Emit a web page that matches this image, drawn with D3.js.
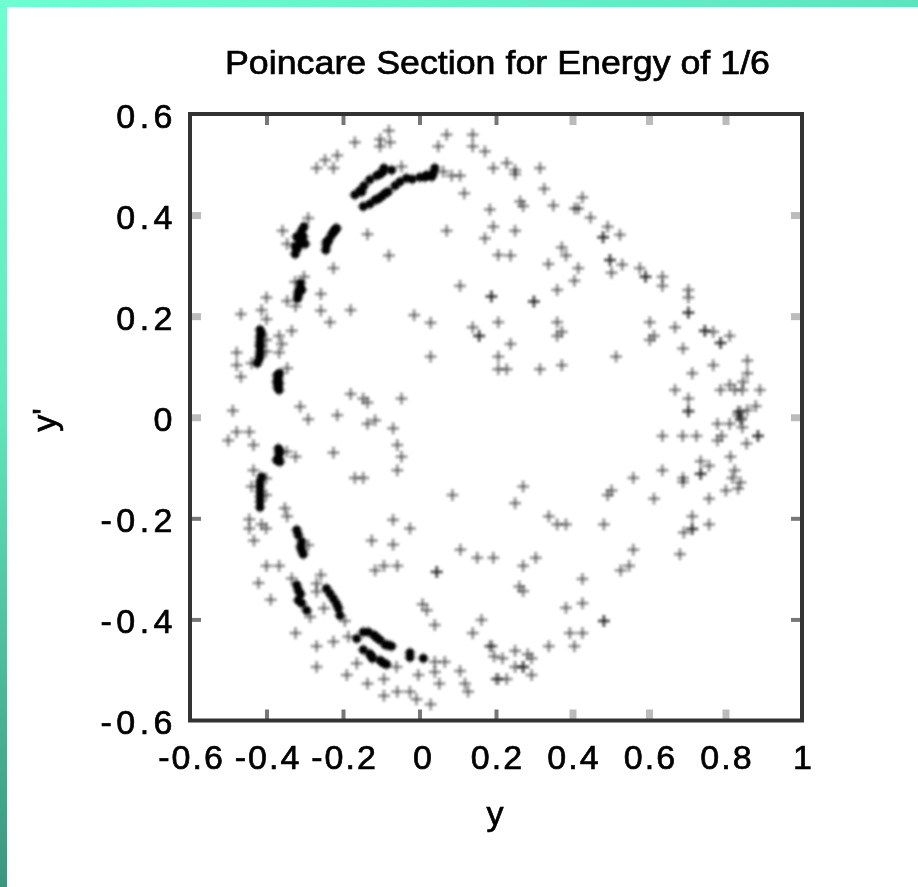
<!DOCTYPE html>
<html><head><meta charset="utf-8">
<script src="https://cdn.jsdelivr.net/npm/d3@7"></script>
<style>html,body{margin:0;padding:0;background:#fff}svg{display:block}text{font-family:"Liberation Sans",Arial,sans-serif;fill:#000;stroke:#000;stroke-width:.7px}</style>
</head><body><svg id="c" width="918" height="887"></svg>
<script>
const titleText="Poincare Section for Energy of 1/6";
const xLabel="y", yLabel="y'";
const xTicks=[-0.6,-0.4,-0.2,0,0.2,0.4,0.6,0.8,1];
const yTicks=[-0.6,-0.4,-0.2,0,0.2,0.4,0.6];
const softXTicks=[0.4,0.6,0.8];
const softYTicks=[0,0.2,0.4];
const scatterUpperLeft=[[-0.346,0.343],[-0.358,0.369],[-0.291,0.394],[-0.169,0.544],[-0.103,0.550],[-0.080,0.567],[-0.077,0.544],[-0.103,0.536],[0.071,0.559],[0.139,0.559],[0.049,0.536],[0.139,0.536],[0.171,0.526],[-0.215,0.518],[-0.247,0.509],[-0.269,0.493],[-0.225,0.493],[0.193,0.493],[0.106,0.478],[0.117,0.443],[0.184,0.411],[0.193,0.377],[0.171,0.354],[0.071,0.369],[-0.136,0.362],[-0.080,0.320],[0.206,0.321],[-0.225,0.295],[0.106,0.260],[0.188,0.239],[0.188,0.239],[-0.258,0.244],[-0.346,0.230],[-0.400,0.237],[-0.413,0.212],[-0.467,0.204],[-0.400,0.194],[-0.258,0.211],[-0.180,0.212],[-0.234,0.188],[-0.014,0.202],[0.029,0.187],[0.139,0.178],[0.156,0.161],[0.156,0.161],[0.206,0.188],[-0.334,0.171],[-0.367,0.161],[-0.360,0.145],[-0.367,0.128],[-0.478,0.128],[-0.478,0.103],[-0.467,0.080],[-0.439,0.107],[-0.346,0.097],[0.029,0.120],[0.206,0.120],[0.206,0.095],[-0.180,0.046],[-0.147,0.037],[-0.136,0.029],[-0.047,0.037],[-0.312,0.021],[-0.488,0.013]];
const clusterUpperLeftA=[[-0.325,0.323],[-0.319,0.334],[-0.314,0.343],[-0.312,0.351],[-0.311,0.361],[-0.308,0.369],[-0.302,0.377],[-0.299,0.343],[-0.321,0.357],[-0.325,0.338],[-0.304,0.357]];
const clusterUpperLeftB=[[-0.245,0.331],[-0.243,0.341],[-0.237,0.351],[-0.230,0.361],[-0.224,0.367],[-0.217,0.374],[-0.243,0.347],[-0.221,0.371]];
const clusterUpperLeftC=[[-0.319,0.235],[-0.317,0.248],[-0.312,0.255],[-0.311,0.265],[-0.317,0.242],[-0.308,0.252]];
const clusterUpperLeftD=[[-0.417,0.173],[-0.417,0.159],[-0.417,0.150],[-0.417,0.140],[-0.417,0.130],[-0.419,0.116],[-0.424,0.107],[-0.413,0.166],[-0.417,0.143],[-0.417,0.123]];
const clusterUpperLeftE=[[-0.372,0.083],[-0.369,0.077],[-0.367,0.067],[-0.371,0.060],[-0.366,0.087],[-0.373,0.070],[-0.367,0.054]];
const arcUpper=[[-0.169,0.440],[-0.156,0.448],[-0.145,0.458],[-0.130,0.470],[-0.112,0.478],[-0.095,0.486],[-0.073,0.489],[-0.151,0.446],[-0.103,0.481],[-0.147,0.417],[-0.130,0.422],[-0.116,0.430],[-0.099,0.437],[-0.082,0.446],[-0.064,0.458],[-0.051,0.466],[-0.034,0.473],[-0.019,0.471],[0.001,0.475],[0.019,0.479],[0.036,0.483],[0.040,0.493],[-0.090,0.443],[-0.108,0.432],[0.014,0.475],[0.032,0.476],[-0.093,0.493]];
const arcUpperFringe=[[-0.047,0.496],[0.062,0.486],[0.084,0.478],[-0.324,0.220],[-0.302,0.278],[-0.325,0.268],[-0.401,0.153],[-0.401,0.130]];
const scatterUpperRight=[[0.228,0.503],[0.250,0.489],[0.250,0.481],[0.315,0.493],[0.326,0.452],[0.426,0.435],[0.415,0.413],[0.406,0.413],[0.350,0.419],[0.263,0.427],[0.271,0.418],[0.447,0.395],[0.492,0.377],[0.480,0.356],[0.480,0.356],[0.524,0.361],[0.250,0.369],[0.372,0.336],[0.383,0.320],[0.337,0.303],[0.415,0.295],[0.405,0.270],[0.498,0.311],[0.498,0.311],[0.530,0.302],[0.502,0.286],[0.238,0.320],[0.360,0.252],[0.299,0.229],[0.299,0.229],[0.576,0.295],[0.591,0.278],[0.591,0.278],[0.635,0.278],[0.635,0.260],[0.703,0.252],[0.703,0.237],[0.703,0.207],[0.703,0.207],[0.602,0.188],[0.668,0.178],[0.746,0.171],[0.746,0.171],[0.768,0.169],[0.787,0.147],[0.787,0.147],[0.811,0.161],[0.613,0.161],[0.602,0.153],[0.689,0.136],[0.360,0.188],[0.372,0.169],[0.360,0.161],[0.238,0.145],[0.514,0.120],[0.372,0.103],[0.315,0.095],[0.228,0.095],[0.768,0.103],[0.857,0.112],[0.857,0.087],[0.713,0.087],[0.668,0.054],[0.703,0.037],[0.703,0.013],[0.787,0.054],[0.811,0.064],[0.824,0.054],[0.846,0.070],[0.844,0.054],[0.890,0.054],[0.879,0.022],[0.857,0.014],[0.838,0.011],[0.833,0.004],[0.842,-0.002]];
const scatterLowerLeft=[[-0.439,-0.137],[-0.401,-0.121],[-0.401,-0.154],[-0.291,-0.253],[-0.250,-0.378],[-0.334,-0.319],[-0.286,-0.395],[-0.195,-0.403],[-0.291,-0.004],[-0.215,0.004],[-0.116,-0.006],[-0.136,-0.013],[-0.069,-0.022],[-0.445,-0.029],[-0.478,-0.029],[-0.500,-0.046],[-0.434,-0.055],[-0.058,-0.055],[-0.047,-0.078],[-0.058,-0.105],[-0.225,-0.070],[-0.324,-0.078],[-0.347,-0.068],[-0.434,-0.105],[-0.169,-0.120],[-0.147,-0.120],[0.086,-0.154],[-0.352,-0.180],[-0.346,-0.196],[-0.445,-0.202],[-0.445,-0.220],[-0.413,-0.212],[-0.401,-0.220],[-0.433,-0.244],[-0.069,-0.203],[-0.025,-0.220],[-0.125,-0.244],[-0.069,-0.252],[0.107,-0.262],[0.151,-0.278],[0.193,-0.278],[-0.400,-0.294],[-0.367,-0.294],[-0.421,-0.328],[-0.389,-0.361],[-0.258,-0.312],[-0.269,-0.329],[-0.269,-0.345],[-0.116,-0.303],[-0.093,-0.294],[-0.058,-0.294],[0.045,-0.306],[0.045,-0.306],[0.008,-0.370],[0.019,-0.382],[0.040,-0.411],[0.162,-0.401],[0.139,-0.427],[0.184,-0.453],[0.195,-0.473],[-0.324,-0.427],[-0.269,-0.453],[-0.225,-0.444],[-0.269,-0.494],[0.040,-0.504],[0.106,-0.502],[-0.190,-0.510],[-0.136,-0.527],[-0.093,-0.518],[-0.003,-0.510],[0.052,-0.527],[0.119,-0.527],[0.127,-0.543],[0.201,-0.518],[-0.093,-0.551],[-0.058,-0.543],[-0.025,-0.543],[-0.008,-0.558],[0.029,-0.568],[0.066,-0.484],[0.040,-0.484],[-0.164,-0.487],[-0.186,-0.434],[-0.060,-0.494]];
const clusterLowerLeftF=[[-0.369,-0.062],[-0.367,-0.072],[-0.369,-0.081],[-0.365,-0.088],[-0.373,-0.085],[-0.365,-0.068]];
const clusterLowerLeftG=[[-0.413,-0.118],[-0.417,-0.128],[-0.417,-0.137],[-0.417,-0.147],[-0.417,-0.157],[-0.417,-0.167],[-0.417,-0.178]];
const clusterLowerLeftH=[[-0.321,-0.223],[-0.317,-0.233],[-0.308,-0.246],[-0.311,-0.256],[-0.308,-0.263],[-0.304,-0.271]];
const clusterLowerLeftI=[[-0.321,-0.332],[-0.317,-0.342],[-0.311,-0.350],[-0.317,-0.362],[-0.308,-0.368],[-0.295,-0.382]];
const clusterLowerLeftJ=[[-0.243,-0.339],[-0.234,-0.349],[-0.225,-0.359],[-0.217,-0.369],[-0.212,-0.378],[-0.208,-0.392]];
const arcLower=[[-0.164,-0.438],[-0.147,-0.425],[-0.134,-0.425],[-0.119,-0.431],[-0.103,-0.441],[-0.090,-0.450],[-0.073,-0.453],[-0.025,-0.475],[0.010,-0.477],[-0.147,-0.460],[-0.130,-0.468],[-0.123,-0.477],[-0.103,-0.481],[-0.086,-0.489],[-0.082,-0.451],[-0.112,-0.436],[-0.095,-0.486],[-0.125,-0.473],[-0.025,-0.466]];
const scatterLowerRight=[[0.703,0.011],[0.833,0.011],[0.779,-0.013],[0.811,-0.013],[0.839,-0.005],[0.844,-0.020],[0.635,-0.037],[0.688,-0.037],[0.724,-0.037],[0.790,-0.037],[0.779,-0.046],[0.885,-0.037],[0.885,-0.037],[0.855,-0.052],[0.813,-0.078],[0.735,-0.087],[0.757,-0.096],[0.824,-0.105],[0.635,-0.105],[0.735,-0.112],[0.735,-0.112],[0.559,-0.120],[0.689,-0.120],[0.689,-0.128],[0.818,-0.120],[0.839,-0.129],[0.833,-0.141],[0.801,-0.145],[0.757,-0.161],[0.613,-0.161],[0.502,-0.145],[0.492,-0.154],[0.271,-0.137],[0.250,-0.170],[0.338,-0.196],[0.360,-0.212],[0.383,-0.212],[0.482,-0.212],[0.713,-0.196],[0.757,-0.212],[0.713,-0.221],[0.713,-0.221],[0.691,-0.228],[0.559,-0.262],[0.681,-0.271],[0.548,-0.294],[0.526,-0.303],[0.271,-0.294],[0.304,-0.278],[0.261,-0.335],[0.271,-0.344],[0.426,-0.320],[0.426,-0.368],[0.383,-0.377],[0.482,-0.403],[0.482,-0.403],[0.393,-0.427],[0.426,-0.427],[0.338,-0.453],[0.405,-0.453],[0.189,-0.453],[0.217,-0.477],[0.250,-0.462],[0.283,-0.469],[0.293,-0.477],[0.250,-0.494],[0.271,-0.494],[0.271,-0.494],[0.293,-0.510],[0.206,-0.518],[0.228,-0.518]];

const dense=[clusterUpperLeftA,clusterUpperLeftB,clusterUpperLeftC,clusterUpperLeftD,clusterUpperLeftE,arcUpper,clusterLowerLeftF,clusterLowerLeftG,clusterLowerLeftH,clusterLowerLeftI,clusterLowerLeftJ,arcLower].flat();
const points=[scatterUpperLeft,arcUpperFringe,scatterUpperRight,scatterLowerLeft,scatterLowerRight,dense].flat();

const W=918,H=887,L=190,R=802,T=114,B=720.5;
const svg=d3.select("#c");
const defs=svg.append("defs");
const gTop=defs.append("linearGradient").attr("id","gTop");
gTop.append("stop").attr("offset",0).attr("stop-color","#6dffd0");
gTop.append("stop").attr("offset",1).attr("stop-color","#5be5bf");
const gLeft=defs.append("linearGradient").attr("id","gLeft").attr("x1",0).attr("x2",0).attr("y1",0).attr("y2",1);
gLeft.append("stop").attr("offset",0).attr("stop-color","#6dffd0");
gLeft.append("stop").attr("offset",0.45).attr("stop-color","#62e8bd");
gLeft.append("stop").attr("offset",1).attr("stop-color","#3a977d");
defs.append("filter").attr("id","soft").attr("x","-5%").attr("y","-5%").attr("width","110%").attr("height","110%").append("feGaussianBlur").attr("stdDeviation",0.95);
defs.append("filter").attr("id","softText").attr("x","-5%").attr("y","-20%").attr("width","110%").attr("height","140%").append("feGaussianBlur").attr("stdDeviation",0.7);

svg.append("rect").attr("width",W).attr("height",H).attr("fill","#fff");
svg.append("rect").attr("width",W).attr("height",7).attr("fill","url(#gTop)");
svg.append("rect").attr("width",7).attr("height",H).attr("fill","url(#gLeft)");

const x=d3.scaleLinear().domain([-0.6,1]).range([L,R]);
const y=d3.scaleLinear().domain([-0.6,0.6]).range([B,T]);

const marks=svg.append("g").attr("filter","url(#soft)");
function plot(data,op,arm,width){
  const g=marks.append("g").attr("stroke","#000").attr("stroke-width",width).attr("stroke-opacity",op);
  const s=g.selectAll("g").data(data).join("g").attr("transform",d=>`translate(${x(d[0])},${y(d[1])})`);
  s.append("line").attr("x1",-arm).attr("x2",arm);
  s.append("line").attr("y1",-arm).attr("y2",arm);
}
plot(points,0.33,6,3.4);
plot(dense,0.6,4,6.5);
plot(dense,0.6,3,6);

const frame=svg.append("g");
function axis(gen,tx,ty,soft){
  const g=frame.append("g").attr("transform",`translate(${tx},${ty})`).call(gen);
  g.selectAll("text").remove();
  g.selectAll(".domain").remove();
  g.selectAll(".tick line").each(function(d){
    const isSoft=soft.includes(d);
    d3.select(this).attr("stroke",isSoft?"#bbb":"#777").attr("stroke-width",isSoft?7:4);
  });
}
const innerX=xTicks.slice(1,-1), innerY=yTicks.slice(1,-1);
axis(d3.axisBottom(x).tickValues(innerX).tickSize(-11).tickSizeOuter(0),0,B,softXTicks);
axis(d3.axisTop(x).tickValues(innerX).tickSize(-11).tickSizeOuter(0),0,T,softXTicks);
axis(d3.axisLeft(y).tickValues(innerY).tickSize(-11).tickSizeOuter(0),L,0,softYTicks);
axis(d3.axisRight(y).tickValues(innerY).tickSize(-11).tickSizeOuter(0),R,0,softYTicks);
frame.append("rect").attr("x",x(-0.6)).attr("y",y(0.6)).attr("width",x(1)-x(-0.6)).attr("height",y(-0.6)-y(0.6)).attr("fill","none").attr("stroke","#333").attr("stroke-width",4);

const fmt=d=>String(d);
const labels=svg.append("g").attr("filter","url(#softText)");
labels.selectAll(".xl").data(xTicks).join("text").attr("class","xl")
  .attr("x",d=>x(d)+(d===0?4:1.5)).attr("y",769).attr("text-anchor","middle")
  .attr("font-size",34).attr("letter-spacing",2).text(fmt);
labels.selectAll(".yl").data(yTicks).join("text").attr("class","yl")
  .attr("x",177).attr("y",d=>y(d)+13.5).attr("text-anchor","end")
  .attr("font-size",34).attr("letter-spacing",4.5).text(fmt);
labels.append("text").attr("x",225).attr("y",74).attr("font-size",33)
  .attr("textLength",545).attr("lengthAdjust","spacingAndGlyphs").text(titleText);
labels.append("text").attr("x",495).attr("y",825).attr("text-anchor","middle").attr("font-size",34).text(xLabel);
labels.append("text").attr("transform","translate(56,420) rotate(-90)").attr("text-anchor","middle").attr("font-size",34).text(yLabel);
</script></body></html>
